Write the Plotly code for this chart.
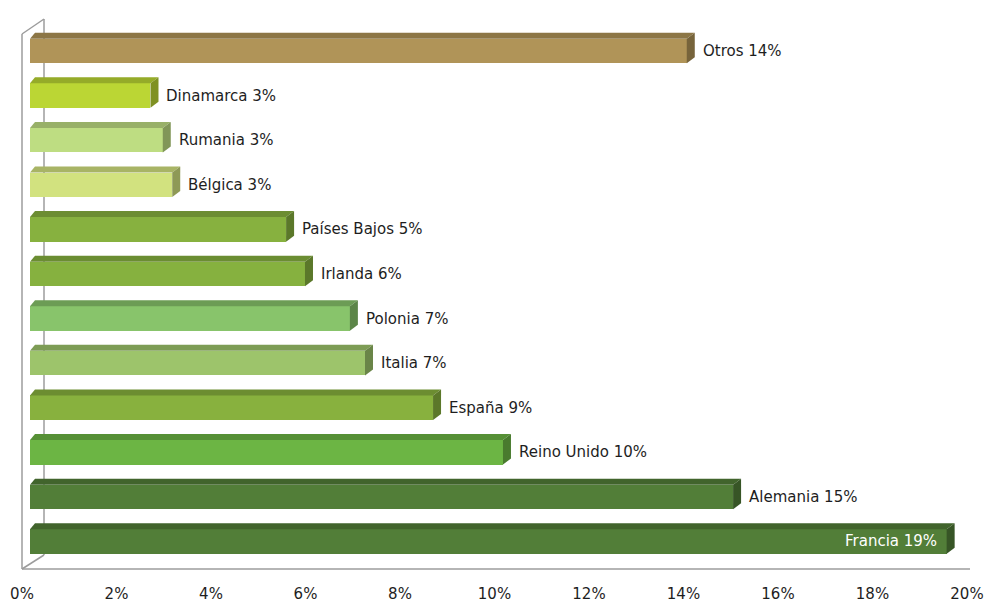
import plotly.graph_objects as go

# Share of total, per country (percent), listed bottom to top
countries = ["Francia", "Alemania", "Reino Unido", "España", "Italia", "Polonia",
             "Irlanda", "Países Bajos", "Bélgica", "Rumania", "Dinamarca", "Otros"]
shares = [19.4, 14.88, 10.01, 8.53, 7.09, 6.77, 5.82, 5.42, 3.01, 2.81, 2.55, 13.9]
face_colors = ["#527E38", "#527E38", "#6CB544", "#88B13E", "#9DC46B", "#88C46B",
               "#86B13F", "#87B13F", "#D2E27F", "#BEDD82", "#BBD634", "#B09458"]
tick_values = list(range(0, 21, 2))
tick_labels = ["{}%".format(t) for t in tick_values]

W, H = 987, 603
ML, MR, MT, MB = 22, 12, 19, 34
plot_w = W - ML - MR
plot_h = H - MT - MB

# Axis scales: bars sit on a plane slightly behind the labelled front plane
px_per_unit = 47.25
front_offset_px = 8
x_range = [-front_offset_px / px_per_unit, plot_w / px_per_unit - front_offset_px / px_per_unit]
x2_range = [0, plot_w / px_per_unit]
y_range = [-0.617, 11.718]
py_per_unit = plot_h / (y_range[1] - y_range[0])

bar_w = 0.55
depth_dx_right = 8 / px_per_unit
depth_dx_left = 5 / px_per_unit
depth_dy = 6 / py_per_unit


def shade(hex_color, f):
    h = hex_color.lstrip("#")
    r, g, b = (int(h[i:i + 2], 16) for i in (0, 2, 4))
    return "rgb({},{},{})".format(int(r * f), int(g * f), int(b * f))


ypos = list(range(len(countries)))

fig = go.Figure()

# front faces
fig.add_trace(go.Bar(
    x=shares, y=ypos, orientation="h", width=bar_w,
    marker=dict(color=face_colors, line=dict(width=0)),
    hoverinfo="skip", showlegend=False,
))

# top and side faces give the bars their depth
for y, v, c in zip(ypos, shares, face_colors):
    top = y + bar_w / 2
    bot = y - bar_w / 2
    fig.add_trace(go.Scatter(
        x=[0, depth_dx_left, v + depth_dx_right, v, 0],
        y=[top, top + depth_dy, top + depth_dy, top, top],
        fill="toself", fillcolor=shade(c, 0.8), mode="lines",
        line=dict(width=0, color=shade(c, 0.8)),
        hoverinfo="skip", showlegend=False,
    ))
    fig.add_trace(go.Scatter(
        x=[v, v + depth_dx_right, v + depth_dx_right, v, v],
        y=[top, top + depth_dy, bot + depth_dy, bot, top],
        fill="toself", fillcolor=shade(c, 0.68), mode="lines",
        line=dict(width=0, color=shade(c, 0.68)),
        hoverinfo="skip", showlegend=False,
    ))

# carrier for the labelled front axis
fig.add_trace(go.Scatter(
    x=[tick_values[0], tick_values[-1]], y=[y_range[0], y_range[0]],
    xaxis="x2", mode="markers", marker=dict(opacity=0),
    hoverinfo="skip", showlegend=False,
))

label_font = dict(family="DejaVu Sans", size=15, color="#1E1E1E")
annotations = []
for y, v, name in zip(ypos, shares, countries):
    inside = v > 18
    annotations.append(dict(
        x=v, y=y, xref="x", yref="y",
        text="{} {:.0f}%".format(name, v),
        showarrow=False,
        xanchor="right" if inside else "left",
        yanchor="middle",
        xshift=-8 if inside else 14,
        font=dict(label_font, color="white") if inside else label_font,
    ))

# frame of the 3D box (walls and floor edges)
fx = 22 / plot_w
top_front = (H - MB - 34) / plot_h
floor_back = 14 / plot_h
frame = dict(color="#9C9C9C", width=1.5)
shapes = [
    dict(type="line", xref="paper", yref="paper", x0=fx, y0=floor_back, x1=fx, y1=1,
         line=frame, layer="below"),
    dict(type="line", xref="paper", yref="paper", x0=0, y0=0, x1=0, y1=top_front,
         line=frame, layer="below"),
    dict(type="line", xref="paper", yref="paper", x0=0, y0=top_front, x1=fx, y1=1,
         line=frame, layer="below"),
    dict(type="line", xref="paper", yref="paper", x0=0, y0=0, x1=fx, y1=floor_back,
         line=frame, layer="below"),
    dict(type="line", xref="paper", yref="paper", x0=0, y0=0, x1=(970 - ML) / plot_w, y1=0,
         line=frame, layer="below"),
]

fig.update_layout(
    width=W, height=H,
    margin=dict(l=ML, r=MR, t=MT, b=MB),
    paper_bgcolor="white", plot_bgcolor="white",
    showlegend=False,
    bargap=0,
    xaxis=dict(range=x_range, visible=False, fixedrange=True),
    xaxis2=dict(range=x2_range, overlaying="x", side="bottom",
                tickmode="array", tickvals=tick_values, ticktext=tick_labels,
                showgrid=False, zeroline=False, showline=False,
                ticks="outside", ticklen=11, tickcolor="rgba(0,0,0,0)",
                tickfont=dict(family="DejaVu Sans", size=15, color="#1E1E1E"),
                automargin=False, fixedrange=True),
    yaxis=dict(range=y_range, visible=False, fixedrange=True),
    annotations=annotations,
    shapes=shapes,
)

fig.write_html("out.html")
